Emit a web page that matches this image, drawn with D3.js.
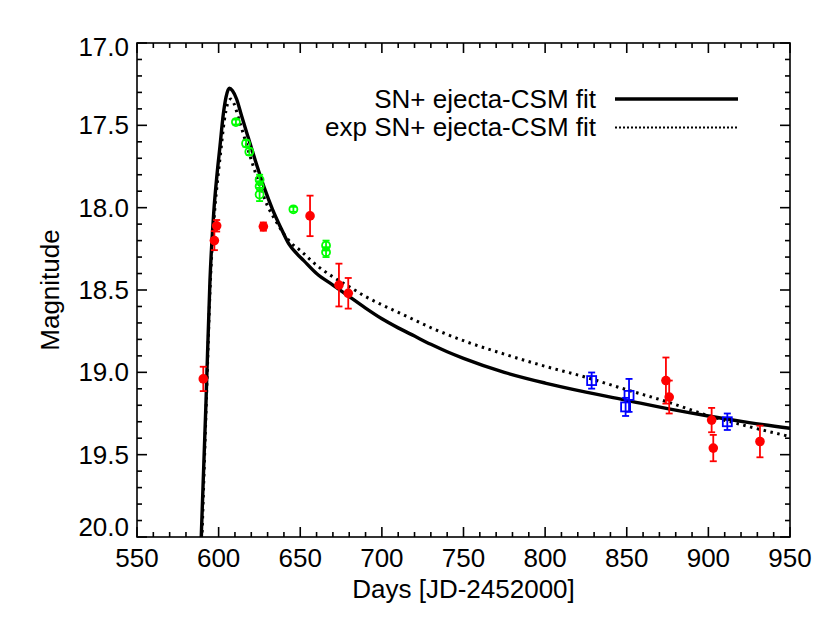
<!DOCTYPE html>
<html>
<head>
<meta charset="utf-8">
<script src="https://cdn.jsdelivr.net/npm/d3@7"></script>
<style>
  body { margin: 0; background: #fff; }
  svg { font-family: "Liberation Sans", Arial, sans-serif; }
</style>
</head>
<body>
<div id="plot"></div>
<script>
// red points (filled circles)
var redDays = [590.6, 597.4, 598.8, 627.4, 656, 673.7, 679.4, 874, 876, 902, 903, 931.6];
var redMag  = [19.04, 18.20, 18.11, 18.115, 18.05, 18.47, 18.52, 19.05, 19.15, 19.29, 19.46, 19.42];
var redErr  = [0.074, 0.058, 0.035, 0.025, 0.123, 0.13, 0.093, 0.14, 0.1, 0.074, 0.08, 0.096];

// green points (open circles)
var greenDays = [610.6, 616.8, 618.8, 625.1, 625.1, 625.1, 645.8, 665.8, 665.8];
var greenMag  = [17.48, 17.61, 17.66, 17.83, 17.87, 17.92, 18.01, 18.23, 18.27];
var greenErr  = [0.015, 0.02, 0.02, 0.03, 0.03, 0.04, 0.015, 0.03, 0.03];

// blue points (open squares)
var blueDays = [828.5, 851.4, 849.3, 911.6];
var blueMag  = [19.05, 19.14, 19.21, 19.30];
var blueErr  = [0.049, 0.1, 0.055, 0.05];

// SN + ejecta-CSM fit (solid)
var fitDays = [589, 592.3, 594.7, 597, 599, 600.8, 602.9, 604.5, 606.5, 608.5, 611, 614, 618, 623, 628, 633, 638, 643, 648, 652,
               660, 670, 680, 690, 700, 710, 720, 730, 740, 750, 775, 800, 825, 850, 875, 900, 925, 950];
var fitMag  = [20.1, 19.17, 18.44, 18.03, 17.80, 17.63, 17.43, 17.33, 17.275, 17.29, 17.34, 17.44, 17.57, 17.73, 17.88, 18.01, 18.12, 18.22, 18.28, 18.32,
               18.40, 18.47, 18.54, 18.61, 18.675, 18.73, 18.78, 18.83, 18.875, 18.915, 19.0, 19.065, 19.12, 19.17, 19.22, 19.265, 19.305, 19.34];

// exp SN + ejecta-CSM fit (dotted)
var expDays = [589.5, 592.5, 595, 597.5, 599.5, 601.3, 603.5, 605.5, 607.5, 609.5, 612, 616, 620, 625, 630, 635, 640, 645, 650,
               660, 670, 680, 690, 700, 711, 731.5, 752, 772, 797, 825, 848, 875, 899, 925, 950];
var expMag  = [20.1, 19.17, 18.44, 18.03, 17.82, 17.66, 17.47, 17.37, 17.34, 17.37, 17.45, 17.58, 17.71, 17.86, 17.99, 18.08, 18.16, 18.22, 18.26,
               18.35, 18.42, 18.48, 18.54, 18.59, 18.64, 18.735, 18.815, 18.88, 18.955, 19.03, 19.10, 19.18, 19.26, 19.33, 19.39];

var xTicks = [550, 600, 650, 700, 750, 800, 850, 900, 950];
var yTicks = [17.0, 17.5, 18.0, 18.5, 19.0, 19.5, 20.0];

var legendLabels = ["SN+ ejecta-CSM fit", "exp SN+ ejecta-CSM fit"];

var width = 830, height = 623;
var margin = { top: 43, right: 40, bottom: 86, left: 137 };
var plotLeft = margin.left, plotRight = width - margin.right;
var plotTop = margin.top, plotBottom = height - margin.bottom;
var fontSize = 26;

var svg = d3.select("#plot").append("svg")
  .attr("width", width)
  .attr("height", height);

var x = d3.scaleLinear().domain([550, 950]).range([plotLeft, plotRight]);
var y = d3.scaleLinear().domain([17, 20]).range([plotTop, plotBottom]);

svg.append("clipPath").attr("id", "clip")
  .append("rect")
  .attr("x", plotLeft).attr("y", plotTop)
  .attr("width", plotRight - plotLeft).attr("height", plotBottom - plotTop);

// frame
svg.append("rect")
  .attr("x", plotLeft).attr("y", plotTop)
  .attr("width", plotRight - plotLeft).attr("height", plotBottom - plotTop)
  .attr("fill", "none").attr("stroke", "#000").attr("stroke-width", 1.6);

// ticks, inward on all four sides
var xMinor = d3.range(550, 951, 10);
var yMinor = d3.range(0, 31).map(function (i) { return 17 + i * 0.1; });
var tickG = svg.append("g").attr("stroke", "#000").attr("stroke-width", 1.6);

xMinor.forEach(function (v) {
  var len = (Math.round(v) % 50 == 0) ? 10 : 5;
  var px = x(v);
  tickG.append("line").attr("x1", px).attr("x2", px).attr("y1", plotBottom).attr("y2", plotBottom - len);
  tickG.append("line").attr("x1", px).attr("x2", px).attr("y1", plotTop).attr("y2", plotTop + len);
});
yMinor.forEach(function (v) {
  var major = Math.abs(v * 2 - Math.round(v * 2)) < 1e-6;
  var len = major ? 10 : 5;
  var py = y(v);
  tickG.append("line").attr("x1", plotLeft).attr("x2", plotLeft + len).attr("y1", py).attr("y2", py);
  tickG.append("line").attr("x1", plotRight).attr("x2", plotRight - len).attr("y1", py).attr("y2", py);
});

// tick labels
svg.append("g").selectAll("text")
  .data(xTicks)
  .enter().append("text")
  .attr("x", function (d) { return x(d); })
  .attr("y", 567)
  .attr("text-anchor", "middle")
  .attr("font-size", fontSize)
  .text(function (d) { return d; });

svg.append("g").selectAll("text")
  .data(yTicks)
  .enter().append("text")
  .attr("x", 129)
  .attr("y", function (d) {
    var c = Math.min(Math.max(y(d), plotTop + 4), plotBottom - 10);
    return c + 9;
  })
  .attr("text-anchor", "end")
  .attr("font-size", fontSize)
  .text(function (d) { return d.toFixed(1); });

// axis titles
svg.append("text")
  .attr("x", (plotLeft + plotRight) / 2)
  .attr("y", 598)
  .attr("text-anchor", "middle")
  .attr("font-size", fontSize)
  .text("Days [JD-2452000]");

svg.append("text")
  .attr("transform", "translate(59," + ((plotTop + plotBottom) / 2) + ") rotate(-90)")
  .attr("text-anchor", "middle")
  .attr("font-size", fontSize)
  .text("Magnitude");

// curves
var plotG = svg.append("g").attr("clip-path", "url(#clip)");

var line = d3.line()
  .x(function (d) { return x(d[0]); })
  .y(function (d) { return y(d[1]); })
  .curve(d3.curveMonotoneX);

plotG.append("path")
  .datum(fitDays.map(function (d, i) { return [d, fitMag[i]]; }))
  .attr("d", line)
  .attr("fill", "none")
  .attr("stroke", "#000")
  .attr("stroke-width", 3.4);

plotG.append("path")
  .datum(expDays.map(function (d, i) { return [d, expMag[i]]; }))
  .attr("d", line)
  .attr("fill", "none")
  .attr("stroke", "#000")
  .attr("stroke-width", 3)
  .attr("stroke-dasharray", "2.5,4.5");

// error bars helper
function errorBars(g, days, mag, err, color, sw) {
  var eb = g.append("g").attr("stroke", color).attr("stroke-width", sw);
  days.forEach(function (d, i) {
    var px = x(d), y1 = y(mag[i] - err[i]), y2 = y(mag[i] + err[i]);
    eb.append("line").attr("x1", px).attr("x2", px).attr("y1", y1).attr("y2", y2);
    eb.append("line").attr("x1", px - 3.5).attr("x2", px + 3.5).attr("y1", y1).attr("y2", y1);
    eb.append("line").attr("x1", px - 3.5).attr("x2", px + 3.5).attr("y1", y2).attr("y2", y2);
  });
}

// green
errorBars(plotG, greenDays, greenMag, greenErr, "#00ff00", 1.8);
plotG.append("g").selectAll("circle")
  .data(greenDays)
  .enter().append("circle")
  .attr("cx", function (d) { return x(d); })
  .attr("cy", function (d, i) { return y(greenMag[i]); })
  .attr("r", 4)
  .attr("fill", "none")
  .attr("stroke", "#00ff00")
  .attr("stroke-width", 1.8);

// blue
errorBars(plotG, blueDays, blueMag, blueErr, "#0000ff", 1.8);
plotG.append("g").selectAll("rect")
  .data(blueDays)
  .enter().append("rect")
  .attr("x", function (d) { return x(d) - 4.5; })
  .attr("y", function (d, i) { return y(blueMag[i]) - 4.5; })
  .attr("width", 9)
  .attr("height", 9)
  .attr("fill", "none")
  .attr("stroke", "#0000ff")
  .attr("stroke-width", 1.8);

// red
errorBars(plotG, redDays, redMag, redErr, "#ff0000", 1.8);
plotG.append("g").selectAll("circle")
  .data(redDays)
  .enter().append("circle")
  .attr("cx", function (d) { return x(d); })
  .attr("cy", function (d, i) { return y(redMag[i]); })
  .attr("r", 4.8)
  .attr("fill", "#ff0000");

// legend
var legend = svg.append("g");
legendLabels.forEach(function (t, i) {
  var ly = 99 + i * 28.5;
  legend.append("text")
    .attr("x", 596)
    .attr("y", ly + 8.5)
    .attr("text-anchor", "end")
    .attr("font-size", fontSize)
    .text(t);
  legend.append("line")
    .attr("x1", 615).attr("x2", 738)
    .attr("y1", ly).attr("y2", ly)
    .attr("stroke", "#000")
    .attr("stroke-width", i == 0 ? 3.4 : 2)
    .attr("stroke-dasharray", i == 0 ? null : "2,2");
});
</script>
</body>
</html>
